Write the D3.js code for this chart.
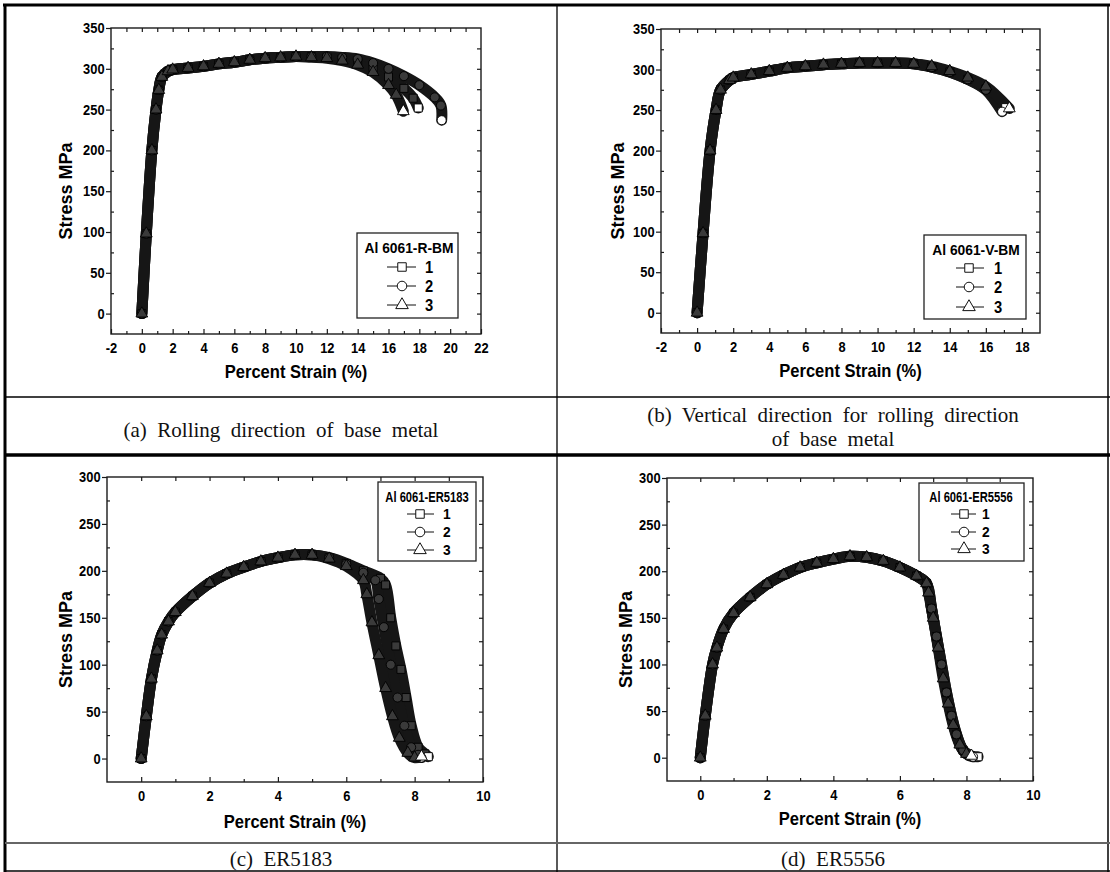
<!DOCTYPE html>
<html><head><meta charset="utf-8">
<script src="https://cdn.jsdelivr.net/npm/d3@7"></script>
<style>body{margin:0;background:#fff}svg{display:block}</style>
</head><body>
<svg id="c" width="1110" height="872"></svg>
<script>
// ---------------- DATA ----------------
const seriesNames = ["1", "2", "3"];
const legendTitles = ["Al 6061-R-BM", "Al 6061-V-BM", "Al 6061-ER5183", "Al 6061-ER5556"];
const captions = [
  ["(a)  Rolling  direction  of  base  metal"],
  ["(b)  Vertical  direction  for  rolling  direction", "of  base  metal"],
  ["(c)  ER5183"],
  ["(d)  ER5556"]
];
const xTitle = "Percent Strain (%)";
const yTitle = "Stress MPa";
const xTicksAB = [-2, 0, 2, 4, 6, 8, 10, 12, 14, 16, 18, 20, 22];
const xTicksB = [-2, 0, 2, 4, 6, 8, 10, 12, 14, 16, 18];
const xTicksCD = [0, 2, 4, 6, 8, 10];
const yTicksAB = [0, 50, 100, 150, 200, 250, 300, 350];
const yTicksCD = [0, 50, 100, 150, 200, 250, 300];

// (a) Rolling direction
const aStrain1 = [0, 0.29, 0.65, 0.92, 1.1, 1.3, 1.7, 2, 3, 4, 5, 6, 7, 8, 9, 10, 11, 12, 13, 14, 15, 16, 17, 17.6, 17.93];
const aStress1 = [0, 98, 200, 250, 274, 290, 297, 299, 301, 303, 306, 308, 311, 313, 314, 315, 315, 314, 312, 307, 300, 290, 276, 264, 252];
const aStrain2 = [0, 0.29, 0.65, 0.92, 1.1, 1.3, 1.7, 2, 3, 4, 5, 6, 7, 8, 9, 10, 11, 12, 13, 14, 15, 16, 17, 18, 19, 19.4, 19.45];
const aStress2 = [0, 98, 200, 250, 274, 290, 297, 299, 301, 303, 306, 308, 311, 313, 314, 315, 315, 315, 314, 312, 307, 300, 291, 280, 265, 255, 237];
const aStrain3 = [0, 0.29, 0.65, 0.92, 1.1, 1.3, 1.7, 2, 3, 4, 5, 6, 7, 8, 9, 10, 11, 12, 13, 14, 15, 16, 16.5, 16.96];
const aStress3 = [0, 98, 200, 250, 274, 290, 297, 299, 301, 303, 306, 308, 311, 313, 314, 315, 314, 313, 310, 305, 296, 280, 268, 248];

// (b) Vertical direction
const bStrain1 = [0, 0.33, 0.72, 1.05, 1.3, 1.8, 2, 3, 4, 5, 6, 7, 8, 9, 10, 11, 12, 13, 14, 15, 16, 17.1];
const bStress1 = [0, 98, 200, 250, 275, 287, 290, 294, 298, 302, 304, 306, 307, 308, 308, 308, 307, 303, 297, 288, 276, 253];
const bStrain2 = [0, 0.33, 0.72, 1.05, 1.3, 1.8, 2, 3, 4, 5, 6, 7, 8, 9, 10, 11, 12, 13, 14, 15, 16, 16.9];
const bStress2 = [0, 98, 200, 250, 275, 287, 290, 294, 298, 302, 304, 306, 307, 308, 308, 308, 307, 303, 297, 288, 275, 248];
const bStrain3 = [0, 0.33, 0.72, 1.05, 1.3, 1.8, 2, 3, 4, 5, 6, 7, 8, 9, 10, 11, 12, 13, 14, 15, 16, 17.3];
const bStress3 = [0, 98, 200, 250, 275, 287, 290, 294, 298, 302, 304, 306, 307, 308, 308, 308, 307, 304, 298, 290, 279, 252];

// (c) ER5183
const cStrain1 = [0, 0.15, 0.3, 0.47, 0.6, 0.8, 1, 1.5, 2, 2.5, 3, 3.5, 4, 4.5, 5, 5.5, 6, 6.5, 7.0, 7.15, 7.3, 7.45, 7.6, 7.75, 7.9, 8.1, 8.3, 8.4];
const cStress1 = [0, 45, 85, 115, 132, 146, 156, 173, 187, 197, 204, 210, 214, 217, 217, 214, 208, 200, 192, 185, 150, 120, 95, 65, 35, 12, 5, 2];
const cStrain2 = [0, 0.15, 0.3, 0.47, 0.6, 0.8, 1, 1.5, 2, 2.5, 3, 3.5, 4, 4.5, 5, 5.5, 6, 6.5, 6.85, 6.95, 7.1, 7.3, 7.5, 7.7, 7.9, 8.1, 8.2];
const cStress2 = [0, 45, 85, 115, 132, 146, 156, 173, 187, 197, 204, 210, 214, 217, 217, 214, 207, 198, 190, 170, 140, 100, 65, 35, 12, 4, 1];
const cStrain3 = [0, 0.15, 0.3, 0.47, 0.6, 0.8, 1, 1.5, 2, 2.5, 3, 3.5, 4, 4.5, 5, 5.5, 6, 6.5, 6.6, 6.75, 6.95, 7.15, 7.35, 7.55, 7.8, 8.0, 8.2];
const cStress3 = [0, 45, 85, 115, 132, 146, 156, 173, 187, 197, 204, 210, 214, 217, 217, 213, 205, 190, 175, 145, 110, 75, 45, 22, 6, 1, 2];

// (d) ER5556
const dStrain1 = [0, 0.15, 0.37, 0.5, 0.7, 1, 1.5, 2, 2.5, 3, 3.5, 4, 4.5, 5, 5.5, 6, 6.5, 6.8, 6.95, 7.1, 7.25, 7.4, 7.55, 7.7, 7.9, 8.1, 8.35];
const dStress1 = [0, 45, 100, 118, 138, 155, 172, 186, 196, 204, 209, 213, 216, 215, 211, 204, 195, 187, 160, 130, 100, 70, 45, 25, 8, 2, 1];
const dStrain2 = [0, 0.15, 0.37, 0.5, 0.7, 1, 1.5, 2, 2.5, 3, 3.5, 4, 4.5, 5, 5.5, 6, 6.5, 6.8, 6.95, 7.1, 7.25, 7.4, 7.55, 7.7, 7.9, 8.2];
const dStress2 = [0, 45, 100, 118, 138, 155, 172, 186, 196, 204, 209, 213, 216, 215, 211, 204, 195, 187, 160, 130, 100, 70, 45, 25, 8, 1];
const dStrain3 = [0, 0.15, 0.37, 0.5, 0.7, 1, 1.5, 2, 2.5, 3, 3.5, 4, 4.5, 5, 5.5, 6, 6.5, 6.8, 6.86, 7.0, 7.15, 7.3, 7.45, 7.6, 7.8, 8.0, 8.15];
const dStress3 = [0, 45, 100, 118, 138, 155, 172, 186, 196, 204, 209, 213, 216, 215, 211, 204, 195, 187, 177, 150, 118, 85, 58, 35, 14, 4, 2];

// ---------------- LAYOUT ----------------
const svg = d3.select("#c");
const FONT = "'Liberation Sans', Arial, sans-serif";
const SERIF = "'Liberation Serif', 'Times New Roman', serif";
const SX = 0.92; // slight horizontal compression of text

const panels = [
  { l: 111, r: 481, t: 28, b: 334, xd: [-2, 22], yd: [-25, 350], xt: xTicksAB, yt: yTicksAB, xMinorStep: 1,
    yTitleX: 66, xTitleY: 378,
    leg: { x0: 357, y0: 233, x1: 458, y1: 318, tx: 409, ty: 253, fs: 15, sx: 0.92, nfs: 16, rows: [267, 286, 305], lx0: 387, lx1: 416, mx: 402, nx: 425 },
    xs: [aStrain1, aStrain2, aStrain3], ys: [aStress1, aStress2, aStress3] },
  { l: 661, r: 1040, t: 29, b: 333, xd: [-2, 19], yd: [-25, 350], xt: xTicksB, yt: yTicksAB, xMinorStep: 1,
    yTitleX: 618, xTitleY: 377,
    leg: { x0: 924, y0: 235, x1: 1026, y1: 319, tx: 976, ty: 255, fs: 15, sx: 0.92, nfs: 16, rows: [268, 287, 307], lx0: 956, lx1: 984, mx: 969, nx: 994 },
    xs: [bStrain1, bStrain2, bStrain3], ys: [bStress1, bStress2, bStress3] },
  { l: 107, r: 483, t: 477, b: 782, xd: [-1, 10], yd: [-25, 300], xt: xTicksCD, yt: yTicksCD, xMinorStep: 1,
    yTitleX: 66, xTitleY: 828,
    leg: { x0: 378, y0: 482, x1: 476, y1: 561, tx: 427, ty: 502, fs: 14, sx: 0.8, nfs: 15, rows: [514, 532, 550], lx0: 407, lx1: 434, mx: 420, nx: 443 },
    xs: [cStrain1, cStrain2, cStrain3], ys: [cStress1, cStress2, cStress3] },
  { l: 667, r: 1033, t: 478, b: 781, xd: [-1, 10], yd: [-25, 300], xt: xTicksCD, yt: yTicksCD, xMinorStep: 1,
    yTitleX: 626, xTitleY: 825,
    leg: { x0: 919, y0: 483, x1: 1024, y1: 561, tx: 971, ty: 502, fs: 14, sx: 0.8, nfs: 15, rows: [514, 532, 549], lx0: 951, lx1: 976, mx: 964, nx: 982 },
    xs: [dStrain1, dStrain2, dStrain3], ys: [dStress1, dStress2, dStress3] }
];

const symbols = [d3.symbolSquare, d3.symbolCircle, d3.symbolTriangle];
const symSize = [64, 64, 60];
const fmt = d => String(d);

function range(a, b, s) { const o = []; for (let v = a; v <= b + 1e-9; v += s) o.push(+v.toFixed(6)); return o; }

panels.forEach((p, pi) => {
  const g = svg.append("g");
  const x = d3.scaleLinear().domain(p.xd).range([p.l, p.r]);
  const y = d3.scaleLinear().domain(p.yd).range([p.b, p.t]);

  const allX = range(Math.ceil(p.xd[0]), Math.floor(p.xd[1]), p.xMinorStep).filter(v => v > p.xd[0] && v < p.xd[1]);
  const minorX = allX.filter(v => !p.xt.includes(v));
  const allY = range(0, p.yd[1], 25).filter(v => v < p.yd[1]);
  const minorY = allY.filter(v => !p.yt.includes(v));

  // series bands
  p.xs.forEach((xsArr, si) => {
    const pts = xsArr.map((v, i) => [v, p.ys[si][i]]);
    const line = d3.line().x(d => x(d[0])).y(d => y(d[1])).curve(d3.curveCatmullRom.alpha(0.5));
    g.append("path").attr("d", line(pts)).attr("fill", "none")
      .attr("stroke", "#161616").attr("stroke-width", 11).attr("stroke-linecap", "round").attr("stroke-linejoin", "round");
  });
  // markers
  p.xs.forEach((xsArr, si) => {
    const pts = xsArr.map((v, i) => [v, p.ys[si][i]]);
    g.selectAll(null).data(pts).enter().append("path")
      .attr("d", d3.symbol(symbols[si], symSize[si]))
      .attr("transform", d => `translate(${x(d[0])},${y(d[1])})`)
      .attr("fill", (d, i) => i === pts.length - 1 ? "#fff" : "#3a3a3a")
      .attr("stroke", "#000").attr("stroke-width", 0.9);
  });

  // frame
  g.append("rect").attr("x", p.l).attr("y", p.t).attr("width", p.r - p.l).attr("height", p.b - p.t)
    .attr("fill", "none").attr("stroke", "#1a1a1a").attr("stroke-width", 1.4);

  const tickStyle = sel => { sel.select(".domain").remove(); sel.selectAll("line").attr("stroke", "#1a1a1a").attr("stroke-width", 1.2); };
  const labStyle = sel => sel.selectAll("text").attr("font-family", FONT).attr("font-weight", "bold").attr("font-size", 14)
    .attr("fill", "#000").attr("transform", `scale(${SX},1)`);

  // bottom
  const bx = g.append("g").attr("transform", `translate(0,${p.b})`)
    .call(d3.axisBottom(x).tickValues(p.xt).tickSize(-5).tickPadding(9).tickFormat(fmt));
  tickStyle(bx); labStyle(bx);
  const bxm = g.append("g").attr("transform", `translate(0,${p.b})`)
    .call(d3.axisBottom(x).tickValues(minorX).tickSize(-3).tickFormat(""));
  tickStyle(bxm);
  // top
  const tx = g.append("g").attr("transform", `translate(0,${p.t})`)
    .call(d3.axisTop(x).tickValues(allX).tickSize(-4).tickFormat(""));
  tickStyle(tx);
  // left major (outward) + labels
  const ly = g.append("g").attr("transform", `translate(${p.l},0)`)
    .call(d3.axisLeft(y).tickValues(p.yt).tickSize(5).tickPadding(2).tickFormat(fmt));
  tickStyle(ly); labStyle(ly);
  const lym = g.append("g").attr("transform", `translate(${p.l},0)`)
    .call(d3.axisLeft(y).tickValues(minorY).tickSize(-3).tickFormat(""));
  tickStyle(lym);
  // right
  const ry = g.append("g").attr("transform", `translate(${p.r},0)`)
    .call(d3.axisRight(y).tickValues(allY).tickSize(-4).tickFormat(""));
  tickStyle(ry);

  // titles
  g.append("text").attr("transform", `translate(${(p.l + p.r) / 2},${p.xTitleY}) scale(${SX},1)`)
    .attr("text-anchor", "middle").attr("font-family", FONT).attr("font-weight", "bold").attr("font-size", 18)
    .attr("fill", "#000").text(xTitle);
  g.append("text").attr("transform", `translate(${p.yTitleX},${(p.t + p.b) / 2 + 10}) rotate(-90)`)
    .attr("text-anchor", "middle").attr("dy", "0.35em").attr("font-family", FONT).attr("font-weight", "bold").attr("font-size", 18)
    .attr("fill", "#000").text(yTitle);

  // legend
  const L = p.leg;
  g.append("rect").attr("x", L.x0).attr("y", L.y0).attr("width", L.x1 - L.x0).attr("height", L.y1 - L.y0)
    .attr("fill", "#fff").attr("stroke", "#222").attr("stroke-width", 1.3);
  g.append("text").attr("transform", `translate(${L.tx},${L.ty}) scale(${L.sx},1)`).attr("text-anchor", "middle")
    .attr("font-family", FONT).attr("font-weight", "bold").attr("font-size", L.fs).attr("fill", "#000").text(legendTitles[pi]);
  seriesNames.forEach((nm, si) => {
    const yy = L.rows[si];
    g.append("line").attr("x1", L.lx0).attr("x2", L.lx1).attr("y1", yy).attr("y2", yy).attr("stroke", "#111").attr("stroke-width", 1);
    g.append("path").attr("d", d3.symbol(symbols[si], symSize[si] + 8)).attr("transform", `translate(${L.mx},${yy})`)
      .attr("fill", "#fff").attr("stroke", "#111").attr("stroke-width", 1);
    g.append("text").attr("transform", `translate(${L.nx},${yy}) scale(${SX},1)`).attr("dy", "0.36em")
      .attr("font-family", FONT).attr("font-weight", "bold").attr("font-size", L.nfs).attr("fill", "#000").text(nm);
  });
});

// ---------------- TABLE FRAME & CAPTIONS ----------------
const frame = svg.append("g").attr("stroke", "#000").attr("fill", "none");
frame.append("line").attr("x1", 3).attr("x2", 1110).attr("y1", 5).attr("y2", 5).attr("stroke-width", 3);
frame.append("line").attr("x1", 5).attr("x2", 5).attr("y1", 4).attr("y2", 872).attr("stroke-width", 3);
frame.append("line").attr("x1", 1108).attr("x2", 1108).attr("y1", 4).attr("y2", 872).attr("stroke-width", 1.5);
frame.append("line").attr("x1", 557).attr("x2", 557).attr("y1", 5).attr("y2", 872).attr("stroke-width", 1.3);
frame.append("line").attr("x1", 5).attr("x2", 1110).attr("y1", 397).attr("y2", 397).attr("stroke-width", 1.3);
frame.append("line").attr("x1", 5).attr("x2", 1110).attr("y1", 455).attr("y2", 455).attr("stroke-width", 3.5);
frame.append("line").attr("x1", 5).attr("x2", 1110).attr("y1", 843).attr("y2", 843).attr("stroke-width", 2).attr("stroke", "#666");
frame.append("line").attr("x1", 5).attr("x2", 1110).attr("y1", 871).attr("y2", 871).attr("stroke-width", 1.5);

const capPos = [
  { cx: 281, ys: [437] },
  { cx: 833, ys: [422, 446] },
  { cx: 281, ys: [866] },
  { cx: 833, ys: [866] }
];
captions.forEach((lines, i) => {
  lines.forEach((t, j) => {
    svg.append("text").attr("x", capPos[i].cx).attr("y", capPos[i].ys[j]).attr("text-anchor", "middle")
      .attr("font-family", SERIF).attr("font-size", 21).attr("fill", "#111").style("white-space", "pre").text(t);
  });
});
</script>
</body></html>
